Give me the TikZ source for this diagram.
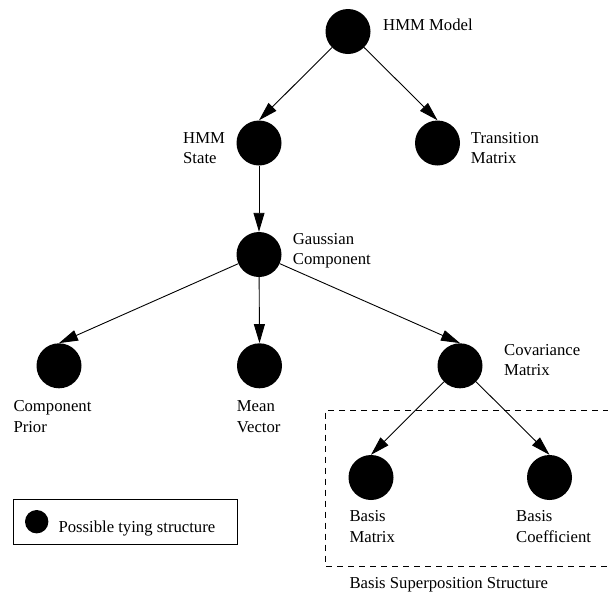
\documentclass[tikz,border=0pt]{standalone}
\usepackage{fontspec}
\setmainfont{Liberation Serif}
\usetikzlibrary{arrows.meta}
\begin{document}
\begin{tikzpicture}[x=1pt,y=-1pt,
  dot/.style={circle,fill=black,draw=none,minimum size=45pt,inner sep=0pt},
  lbl/.style={anchor=base west,align=left,inner sep=0pt,
    font=\fontsize{16.7pt}{20.5pt}\selectfont},
  arr/.style={line width=0.9pt,-{Triangle[length=19pt,width=11pt]}},
  group/.style={line width=0.9pt,dash pattern=on 6pt off 5pt},
]
\useasboundingbox (0,0) rectangle (608,592);

% tree of tying levels
\node[dot] (model) at (348,31.5) {};
\node[dot] (state) at (259,143) {};
\node[dot] (trans) at (437.5,143) {};
\node[dot] (gauss) at (259,254.5) {};
\node[dot] (prior) at (59,365.8) {};
\node[dot] (mean)  at (259.5,365.8) {};
\node[dot] (cov)   at (460,365.8) {};
\node[dot] (bmat)  at (371,477.5) {};
\node[dot] (bcoef) at (549.5,477.5) {};

% labels (anchored at the baseline of their last line)
\node[lbl] (lmodel) at (383,30.7) {HMM Model};
\node[lbl] (lstate) at (183,163.8) {HMM\\State};
\node[lbl] (ltrans) at (470.7,163.8) {Transition\\Matrix};
\node[lbl] (lgauss) at (292.7,264.5) {Gaussian\\Component};
\node[lbl] (lprior) at (13.3,432) {Component\\Prior};
\node[lbl] (lmean)  at (236.7,432) {Mean\\Vector};
\node[lbl] (lcov)   at (504,375.7) {Covariance\\Matrix};
\node[lbl] (lbmat)  at (349.3,542.3) {Basis\\Matrix};
\node[lbl] (lbcoef) at (516,542.3) {Basis\\Coefficient};

% connectors
\draw[arr] (model) -- (state.north);
\draw[arr] (model) -- (trans.north);
\draw[arr] (state) -- (gauss.north);
\draw[arr] (gauss) -- (prior.north);
\draw[arr] (gauss) -- (mean.north);
\draw[arr] (gauss) -- (cov.north);
\draw[arr] (cov) -- (bmat.north);
\draw[arr] (cov) -- (bcoef.north);

% basis superposition group (open on the right)
\draw[group] (609,410) -- (325.7,410) -- (325.7,566) -- (609,566);
\node[lbl] (lgroup) at (349.3,588.3) {Basis Superposition Structure};

% legend
\draw[line width=0.9pt] (13.3,499.3) rectangle (237.3,544);
\node[circle,fill=black,minimum size=23.4pt,inner sep=0pt] (ldot) at (36.7,521.7) {};
\node[lbl] (ltext) at (58.3,532.7) {Possible tying structure};
\end{tikzpicture}
\end{document}
